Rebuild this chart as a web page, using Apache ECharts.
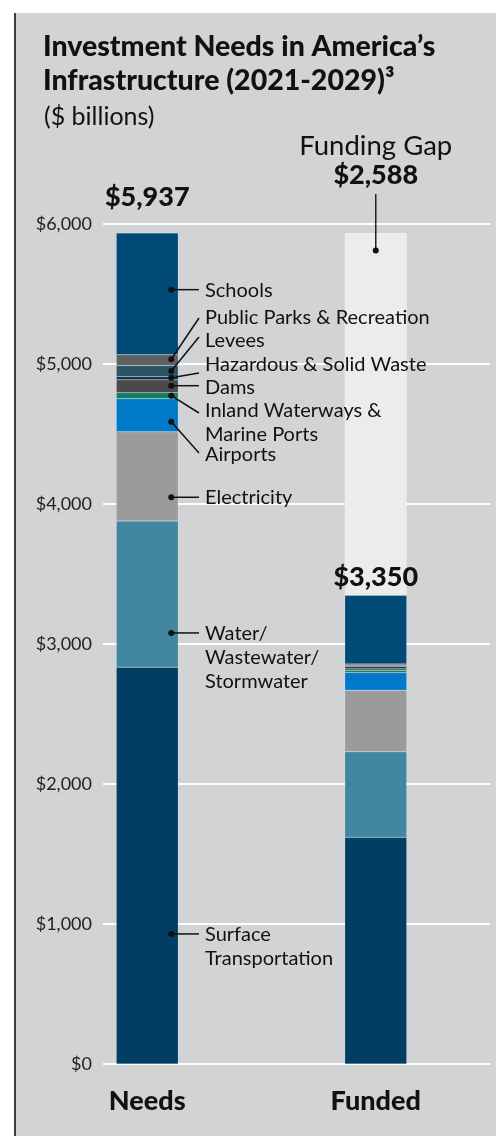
<!DOCTYPE html>
<html>
<head>
<meta charset="utf-8">
<script src="https://cdn.jsdelivr.net/npm/echarts@6/dist/echarts.min.js"></script>
<style>
  html, body { margin: 0; background: #fff; }
  #chart { width: 496px; height: 1136px; }
</style>
</head>
<body>
<div id="chart"></div>
<script>
// $ billions, 2021-2029
const categories = ['Needs', 'Funded'];
const sectors = ['Surface Transportation', 'Water/Wastewater/Stormwater', 'Electricity', 'Airports',
  'Inland Waterways & Marine Ports', 'Dams', 'Hazardous & Solid Waste', 'Levees',
  'Public Parks & Recreation', 'Schools'];
const needs = [2834, 1045, 637, 237, 42, 93, 21, 80, 77, 870];
const funded = [1619, 611, 440, 126, 17, 11, 14, 10, 10, 490];
const fundingGap = ['-', 2588];
const totalLabels = ['$5,937', '$3,350'];
const gapLabel = '$2,588';
const yTicks = [0, 1000, 2000, 3000, 4000, 5000, 6000];

// callouts next to the Needs bar
const noteLines = [['Surface', 'Transportation'], ['Water/', 'Wastewater/', 'Stormwater'], ['Electricity'],
  ['Airports'], ['Inland Waterways &', 'Marine Ports'], ['Dams'], ['Hazardous & Solid Waste'], ['Levees'],
  ['Public Parks & Recreation'], ['Schools']];
const noteDots = [929, 3079, 4048, 4588, 4774, 4845, 4902, 4950, 5034, 5531];
const gapDot = 5810;

const colors = ['#003f63', '#41879f', '#9a9b9d', '#0079c8', '#0e7f5f', '#4a4a4b', '#0a2a3e',
  '#2b5566', '#5f6062', '#004a78'];
const FONT = 'Lato';

const chart = echarts.init(document.getElementById('chart'));

const series = sectors.map((name, i) => ({
  name: name,
  type: 'bar',
  stack: 'total',
  xAxisIndex: 1,
  yAxisIndex: 1,
  barWidth: 62,
  silent: true,
  data: [needs[i], funded[i]],
  itemStyle: { color: colors[i], borderColor: 'rgba(255,255,255,0.3)', borderWidth: 0.5 }
}));
series.push({
  name: 'Funding Gap',
  type: 'bar',
  stack: 'total',
  xAxisIndex: 1,
  yAxisIndex: 1,
  barWidth: 62,
  silent: true,
  data: fundingGap,
  itemStyle: { color: '#ececec' }
});

chart.setOption({
  animation: false,
  textStyle: { fontFamily: FONT },
  title: [{
    text: 'Investment Needs in America\u2019s\nInfrastructure (2021-2029)\u00b3',
    left: 38, top: 25,
    textStyle: { fontFamily: FONT, fontSize: 28.5, fontWeight: 900, color: '#111', lineHeight: 34 }
  }, {
    text: '($ billions)',
    left: 39, top: 99,
    textStyle: { fontFamily: FONT, fontSize: 25, fontWeight: 'normal', color: '#111' }
  }],
  grid: [
    { left: 103, right: 6, top: 224, bottom: 72 },
    { left: 33, right: 6, top: 224, bottom: 72 }
  ],
  xAxis: [
    { type: 'category', gridIndex: 0, data: categories, show: false },
    {
      type: 'category', gridIndex: 1, data: categories,
      axisLine: { show: false }, axisTick: { show: false },
      axisLabel: { margin: 24, fontSize: 27, fontWeight: 900, color: '#111', fontFamily: FONT }
    }
  ],
  yAxis: [
    {
      type: 'value', gridIndex: 0, min: 0, max: 6000, interval: 1000,
      axisLine: { show: false }, axisTick: { show: false },
      splitLine: { lineStyle: { color: '#ffffff', width: 2 } },
      axisLabel: {
        margin: 11, fontSize: 18, color: '#222', fontFamily: FONT,
        formatter: v => yTicks.indexOf(v) >= 0 ? '$' + v.toLocaleString('en-US') : ''
      }
    },
    { type: 'value', gridIndex: 1, min: 0, max: 6000, interval: 1000, show: false }
  ],
  series: series
});

function sum(a) { return a.reduce((s, v) => s + v, 0); }

function drawNotes() {
  const px = (cat, v) => chart.convertToPixel({ gridIndex: 1 }, [cat, v]);
  const g = [];
  // panel background + left rule
  g.push({ type: 'rect', z: -10, shape: { x: 15, y: 13, width: 481, height: 1123 }, style: { fill: '#d2d3d5' } });
  g.push({ type: 'line', z: -9, shape: { x1: 15, y1: 13, x2: 15, y2: 1136 }, style: { stroke: '#3c3c3c', lineWidth: 2 } });

  // totals above bars
  const nTop = px('Needs', sum(needs));
  const fTop = px('Funded', sum(funded));
  g.push({ type: 'text', z: 50, x: nTop[0], y: nTop[1] - 36,
    style: { text: totalLabels[0], fontFamily: FONT, fontSize: 27, fontWeight: 900, fill: '#111', align: 'center', verticalAlign: 'middle' } });
  g.push({ type: 'text', z: 50, x: fTop[0], y: fTop[1] - 18,
    style: { text: totalLabels[1], fontFamily: FONT, fontSize: 27, fontWeight: 900, fill: '#111', align: 'center', verticalAlign: 'middle' } });

  // funding gap callout
  const gd = px('Funded', gapDot);
  g.push({ type: 'text', z: 50, x: gd[0], y: 146,
    style: { text: 'Funding Gap', fontFamily: FONT, fontSize: 27.5, fill: '#111', align: 'center', verticalAlign: 'middle' } });
  g.push({ type: 'text', z: 50, x: gd[0], y: 175,
    style: { text: gapLabel, fontFamily: FONT, fontSize: 27, fontWeight: 900, fill: '#111', align: 'center', verticalAlign: 'middle' } });
  g.push({ type: 'line', z: 50, shape: { x1: gd[0], y1: 194, x2: gd[0], y2: gd[1] }, style: { stroke: '#222', lineWidth: 1.5 } });
  g.push({ type: 'circle', z: 51, shape: { cx: gd[0], cy: gd[1], r: 3 }, style: { fill: '#111' } });

  // sector callouts (label layout in px, dot from data)
  const labelY = [935, 634, 498, 455, 411, 388, 365, 341, 318, 291];
  const endY = [null, null, null, 453, 413, null, 373, 337, 318, null];
  noteLines.forEach((lines, i) => {
    const d = px('Needs', noteDots[i]);
    const dx = d[0] + 24;
    const ey = endY[i] == null ? d[1] : endY[i];
    g.push({ type: 'line', z: 50, shape: { x1: dx, y1: d[1], x2: 199, y2: ey }, style: { stroke: '#111', lineWidth: 1.5 } });
    g.push({ type: 'circle', z: 51, shape: { cx: dx, cy: d[1], r: 3 }, style: { fill: '#111' } });
    lines.forEach((t, k) => {
      g.push({ type: 'text', z: 50, x: 205, y: labelY[i] + k * 24,
        style: { text: t, fontFamily: FONT, fontSize: 20, fill: '#111', align: 'left', verticalAlign: 'middle' } });
    });
  });
  chart.setOption({ graphic: g });
}
drawNotes();
</script>
</body>
</html>
